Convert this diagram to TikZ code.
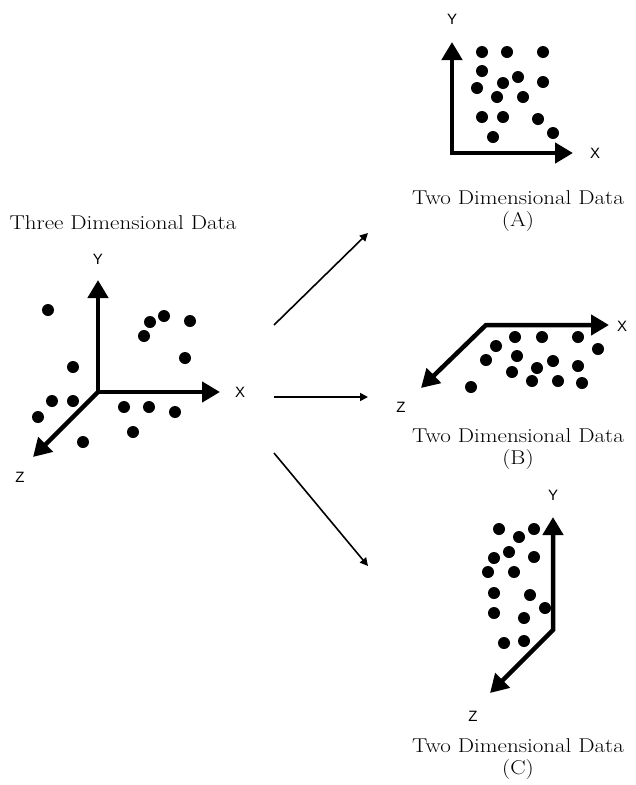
\documentclass[tikz,border=0pt]{standalone}
\usepackage{fontspec}
\usepackage{graphicx}
\newfontfamily\axisfont{Liberation Sans}
\usetikzlibrary{arrows.meta}
% caption text, widened a little
\newcommand{\widecap}[1]{\scalebox{1.15}[1]{\begin{tabular}{@{}c@{}}#1\end{tabular}}}
\begin{document}
\begin{tikzpicture}[x=1pt,y=-1pt,
  axis/.style={line width=4.5pt},
  flow/.style={line width=1.6pt,-{Triangle[length=8pt,width=8pt]}},
  dot/.style={circle,fill=black,inner sep=0pt,minimum size=12pt},
  axlabel/.style={font=\axisfont\fontsize{15}{15}\selectfont,inner sep=0pt},
  caption/.style={font=\fontsize{20}{22}\selectfont,inner sep=0pt}]
\useasboundingbox (0,0) rectangle (635,785);

% ---------- three dimensional data ----------
\node[caption] (t3) at (123,225) {\widecap{Three Dimensional Data}};
\coordinate (o3) at (98,392);
\coordinate (y3) at (98,280);
\coordinate (x3) at (220,392);
\coordinate (z3) at (33,457);
\draw[axis,line cap=round,-{Triangle[length=18pt,width=20pt]}] (o3) -- (z3);
\draw[axis,{Triangle[length=18pt,width=20pt]}-{Triangle[length=18pt,width=20pt]}] (y3) -- (o3) -- (x3);
\node[axlabel] (ly3) at (98,259) {Y};
\node[axlabel] (lx3) at (240,392) {X};
\node[axlabel] (lz3) at (20,477) {Z};
\foreach \p in {(48,310),(150,322),(164,316),(190,321),(144,336),(185,358),
                (73,367),(52,401),(73,401),(38,417),(124,407),(149,407),
                (175,412),(133,432),(83,442)}
  \node[dot] at \p {};

% ---------- projection A (x-y plane) ----------
\coordinate (oa) at (452,153);
\coordinate (ya) at (452,42);
\coordinate (xa) at (573,153);
\draw[axis,{Triangle[length=18pt,width=20pt]}-{Triangle[length=18pt,width=20pt]}] (ya) -- (oa) -- (xa);
\node[axlabel] (lya) at (452,19) {Y};
\node[axlabel] (lxa) at (595,153) {X};
\foreach \p in {(482,52),(507,52),(543,52),(482,71),(518,77),(503,83),(543,82),
                (477,88),(497,97),(523,97),(482,117),(503,117),(538,119),
                (553,133),(493,137)}
  \node[dot] at \p {};
\node[caption] (ta) at (518,211) {\widecap{Two Dimensional Data\\(A)}};

% ---------- projection B (x-z plane) ----------
\coordinate (ob) at (486,325);
\coordinate (xb) at (609,325);
\coordinate (zb) at (421,388);
\draw[axis,{Triangle[length=18pt,width=20pt]}-{Triangle[length=18pt,width=20pt]}] (zb) -- (ob) -- (xb);
\node[axlabel] (lxb) at (622,326) {X};
\node[axlabel] (lzb) at (401,407) {Z};
\foreach \p in {(515,337),(542,337),(578,337),(496,346),(598,349),(517,356),
                (486,360),(553,361),(537,368),(578,366),(512,372),(532,381),
                (558,381),(582,383),(471,387)}
  \node[dot] at \p {};
\node[caption] (tb) at (518,449) {\widecap{Two Dimensional Data\\(B)}};

% ---------- projection C (y-z plane) ----------
\coordinate (oc) at (553,630);
\coordinate (yc) at (553,517);
\coordinate (zc) at (490,693);
\draw[axis,{Triangle[length=18pt,width=20pt]}-{Triangle[length=18pt,width=20pt]}] (yc) -- (oc) -- (zc);
\node[axlabel] (lyc) at (553,495) {Y};
\node[axlabel] (lzc) at (473,716) {Z};
\foreach \p in {(499,529),(519,537),(534,529),(509,552),(494,558),(534,557),
                (488,572),(514,572),(494,593),(530,595),(545,608),(494,613),
                (524,618),(504,643),(524,641)}
  \node[dot] at \p {};
\node[caption] (tc) at (518,759) {\widecap{Two Dimensional Data\\(C)}};

% ---------- projection arrows ----------
\coordinate (fa0) at (274,325);
\coordinate (fa1) at (368,233);
\coordinate (fb0) at (274,397);
\coordinate (fb1) at (368,397);
\coordinate (fc0) at (274,453);
\coordinate (fc1) at (368,566);
\draw[flow] (fa0) -- (fa1);
\draw[flow] (fb0) -- (fb1);
\draw[flow] (fc0) -- (fc1);
\end{tikzpicture}
\end{document}
